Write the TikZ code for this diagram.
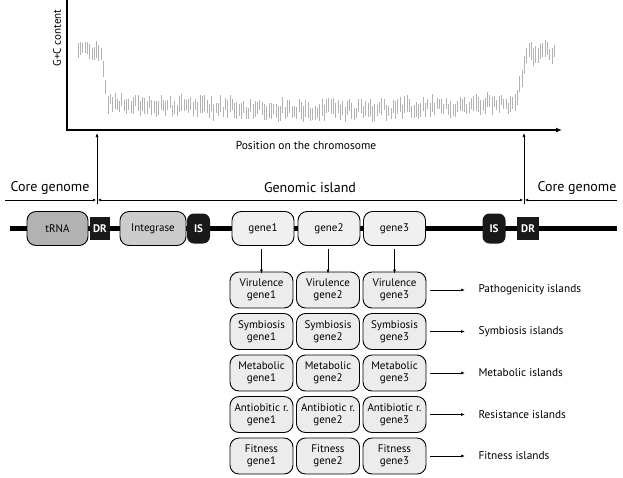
\documentclass[tikz,border=0pt]{standalone}
\usepackage{fontspec}
\setmainfont{PT Sans}
\usetikzlibrary{arrows.meta}

\begin{document}
\begin{tikzpicture}[x=1pt, y=-1pt,
    genebox/.style={draw, line width=0.9pt, rounded corners=9pt, minimum width=62pt, minimum height=34pt, inner sep=1pt, align=center, font=\fontsize{11}{11.5}\selectfont},
    typebox/.style={genebox, minimum width=63pt, minimum height=36pt, fill=gray!15},
    blackbox/.style={fill=black!90, text=white, inner sep=0pt, font=\bfseries\fontsize{11}{12}\selectfont},
    plotbar/.style={gray!60, line width=0.6pt},
    smalltip/.style={-{Latex[length=4pt,width=3pt]}, line width=0.6pt}]
    \useasboundingbox (0,0) rectangle (623,477);

    % G+C plot
    \pgfmathsetseed{11}
    \foreach \i in {0,...,207} {
        \pgfmathsetmacro\px{78+\i*2.3}
        \pgfmathsetmacro\cy{\px<101 ? 50 : (\px<107 ? 50+(\px-101)/6*53 : (\px<516 ? 103+7*sin((\px-107)/409*180) : (\px<528 ? 103-(\px-516)/12*50 : 53)))}
        \pgfmathsetmacro\hh{5+4*rnd}
        \pgfmathsetmacro\off{5*rand}
        \draw[plotbar] (\px,\cy+\off-\hh) -- (\px,\cy+\off+\hh);
    }
    \draw[line width=2pt, -{Latex[length=6pt,width=5pt]}] (67,0) -- (67,130) -- (562,130);
    \node[rotate=90, font=\fontsize{11}{12}\selectfont] (gc) at (57,38) {G+C content};
    \node[font=\fontsize{11.5}{13}\selectfont] (pos) at (306,145) {Position on the chromosome};

    % regions
    \coordinate (lb) at (97,204);
    \coordinate (lt) at (97,133);
    \coordinate (rb) at (524,204);
    \coordinate (rt) at (524,133);
    \draw[smalltip] (lb) -- (lt);
    \draw[smalltip] (rb) -- (rt);
    \node[font=\fontsize{14}{16}\selectfont] (corel) at (50,188) {Core genome};
    \node[font=\fontsize{14}{16}\selectfont] (island) at (310,188) {Genomic island};
    \node[font=\fontsize{14}{16}\selectfont] (corer) at (577,188) {Core genome};
    \coordinate (l0) at (5,200);
    \coordinate (r0) at (617,200);
    \draw[-{Latex[length=3pt,width=3pt]}, line width=0.6pt] (l0) -- ([xshift=-1pt]lb |- l0);
    \draw[{Latex[length=3pt,width=3pt]}-{Latex[length=3pt,width=3pt]}, line width=0.6pt] ([xshift=1pt]lb |- l0) -- ([xshift=-1pt]rb |- l0);
    \draw[-{Latex[length=3pt,width=3pt]}, line width=0.6pt] (r0) -- ([xshift=1pt]rb |- l0);

    % chromosome
    \draw[line width=5pt] (10,228.5) -- (617,228.5);
    \node[genebox, fill=gray!60, minimum width=61pt] (trna) at (57.5,228.5) {tRNA};
    \node[blackbox, minimum width=20pt, minimum height=23pt] (dr1) at (100,228.5) {DR};
    \node[genebox, fill=gray!40, minimum width=66pt] (integrase) at (153,228.5) {Integrase};
    \node[blackbox, rounded corners=7pt, minimum width=23pt, minimum height=30pt] (is1) at (198.5,228.5) {IS};
    \node[genebox, fill=gray!12] (gene1) at (263,228.5) {gene1};
    \node[genebox, fill=gray!12] (gene2) at (329,228.5) {gene2};
    \node[genebox, fill=gray!12] (gene3) at (394.5,228.5) {gene3};
    \node[blackbox, rounded corners=7pt, minimum width=23pt, minimum height=30pt] (is2) at (494,228.5) {IS};
    \node[blackbox, minimum width=22pt, minimum height=23pt] (dr2) at (528,228.5) {DR};

    % island types
    \foreach \r/\ca/\cb/\lab in {1/Virulence/Virulence/Pathogenicity islands,
                                 2/Symbiosis/Symbiosis/Symbiosis islands,
                                 3/Metabolic/Metabolic/Metabolic islands,
                                 4/Antiobitic r./Antibiotic r./Resistance islands,
                                 5/Fitness/Fitness/Fitness islands} {
        \pgfmathsetmacro\ry{290+(\r-1)*41.5}
        \node[typebox] (b\r1) at (261.5,\ry) {\ca\\gene1};
        \node[typebox] (b\r2) at (328,\ry) {\cb\\gene2};
        \node[typebox] (b\r3) at (394.5,\ry) {\cb\\gene3};
        \node[anchor=west, font=\fontsize{11.3}{13}\selectfont] (lab\r) at (475,\ry) {\lab};
        \draw[smalltip] ([xshift=4pt]b\r3.east) -- ([xshift=-10pt]lab\r.west);
    }
    \draw[smalltip] (b11.north |- gene1.south) ++(0,3) -- ([yshift=-2pt]b11.north);
    \draw[smalltip] (b12.north |- gene2.south) ++(0,3) -- ([yshift=-2pt]b12.north);
    \draw[smalltip] (b13.north |- gene3.south) ++(0,3) -- ([yshift=-2pt]b13.north);
\end{tikzpicture}
\end{document}
